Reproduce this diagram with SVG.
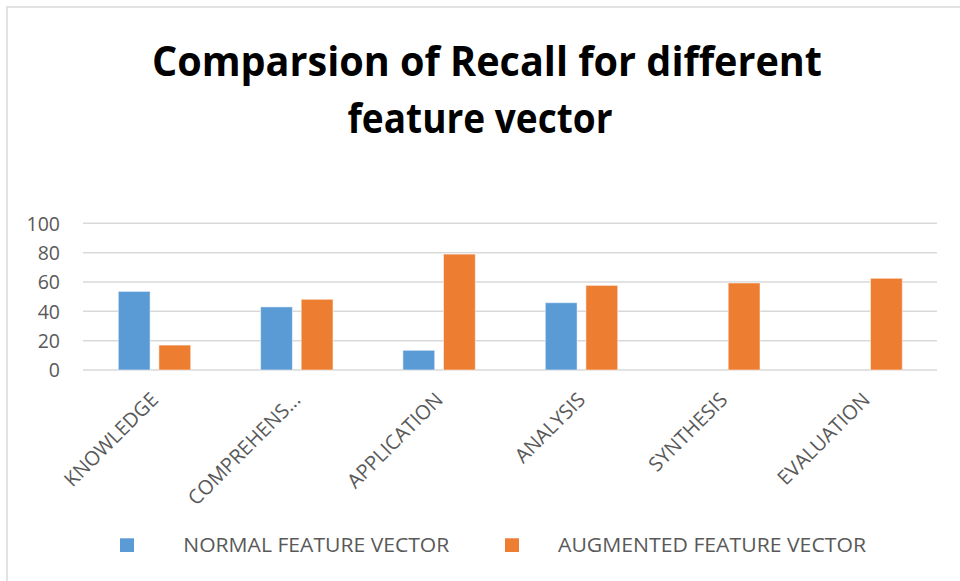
<svg xmlns="http://www.w3.org/2000/svg" width="960" height="581" viewBox="0 0 960 581">
  <style>
    .title { font-family: "Open Sans", "Liberation Sans", sans-serif; font-weight: bold; font-size: 42px; fill: #000; }
    .tick { font-family: "Open Sans", "Liberation Sans", sans-serif; font-size: 19.5px; fill: #595959; }
    .cat { font-family: "Open Sans", "Liberation Sans", sans-serif; font-size: 20px; fill: #595959; }
    .grid { stroke: #D9D9D9; stroke-width: 1.5; fill: none; }
    .normal { fill: #5B9BD5; stroke: #ffffff; stroke-opacity: 0.5; stroke-width: 1; }
    .augmented { fill: #ED7D31; stroke: #ffffff; stroke-opacity: 0.5; stroke-width: 1; }
  </style>

  <!-- chart area -->
  <rect x="0" y="0" width="960" height="581" fill="#ffffff"/>
  <rect x="7" y="7" width="1000" height="1000" fill="none" stroke="#D9D9D9" stroke-width="1.5"/>

  <!-- title -->
  <g id="title">
    <text class="title" x="487" y="76" text-anchor="middle" textLength="670" lengthAdjust="spacingAndGlyphs">Comparsion of Recall for different</text>
    <text class="title" x="480" y="133" text-anchor="middle" textLength="265" lengthAdjust="spacingAndGlyphs">feature vector</text>
  </g>

  <!-- horizontal gridlines, 0..100 step 20 -->
  <g id="gridlines">
    <line class="grid" x1="83" y1="223.3" x2="937" y2="223.3"/>
    <line class="grid" x1="83" y1="252.7" x2="937" y2="252.7"/>
    <line class="grid" x1="83" y1="282" x2="937" y2="282"/>
    <line class="grid" x1="83" y1="311.3" x2="937" y2="311.3"/>
    <line class="grid" x1="83" y1="340.7" x2="937" y2="340.7"/>
    <line class="grid" x1="83" y1="370" x2="937" y2="370"/>
  </g>

  <!-- value axis labels -->
  <g id="value-axis" text-anchor="end">
    <text class="tick" x="60" y="230.5">100</text>
    <text class="tick" x="60" y="259.9">80</text>
    <text class="tick" x="60" y="289.2">60</text>
    <text class="tick" x="60" y="318.5">40</text>
    <text class="tick" x="60" y="347.9">20</text>
    <text class="tick" x="60" y="377.2">0</text>
  </g>

  <!-- bars: normal feature vector -->
  <g id="series-normal">
    <rect class="normal" x="118.3" y="291.4" width="31.8" height="78.6"/>
    <rect class="normal" x="260.6" y="306.9" width="31.8" height="63.1"/>
    <rect class="normal" x="402.9" y="350.3" width="31.8" height="19.7"/>
    <rect class="normal" x="545.3" y="302.7" width="31.8" height="67.3"/>
  </g>

  <!-- bars: augmented feature vector -->
  <g id="series-augmented">
    <rect class="augmented" x="158.9" y="345.1" width="31.8" height="24.9"/>
    <rect class="augmented" x="301.2" y="299.3" width="31.8" height="70.7"/>
    <rect class="augmented" x="443.5" y="254.1" width="31.8" height="115.9"/>
    <rect class="augmented" x="585.9" y="285.4" width="31.8" height="84.6"/>
    <rect class="augmented" x="728.2" y="283.0" width="31.8" height="87.0"/>
    <rect class="augmented" x="870.5" y="278.3" width="31.8" height="91.7"/>
  </g>

  <!-- category axis labels -->
  <g id="category-axis" text-anchor="end">
    <text class="cat" transform="translate(159.5,401) rotate(-45)">KNOWLEDGE</text>
    <text class="cat" transform="translate(301.8,401) rotate(-45)">COMPREHENS...</text>
    <text class="cat" transform="translate(444.1,401) rotate(-45)">APPLICATION</text>
    <text class="cat" transform="translate(586.5,401) rotate(-45)">ANALYSIS</text>
    <text class="cat" transform="translate(728.8,401) rotate(-45)">SYNTHESIS</text>
    <text class="cat" transform="translate(871.1,401) rotate(-45)">EVALUATION</text>
  </g>

  <!-- legend -->
  <g id="legend">
    <g id="legend-normal">
      <rect x="120" y="538.3" width="14" height="13.7" fill="#5B9BD5"/>
      <text class="tick" x="183.3" y="552" font-size="21" textLength="266" lengthAdjust="spacingAndGlyphs">NORMAL FEATURE VECTOR</text>
    </g>
    <g id="legend-augmented">
      <rect x="505" y="538.3" width="14" height="13.7" fill="#ED7D31"/>
      <text class="tick" x="558" y="552" font-size="21" textLength="308" lengthAdjust="spacingAndGlyphs">AUGMENTED FEATURE VECTOR</text>
    </g>
  </g>
</svg>
